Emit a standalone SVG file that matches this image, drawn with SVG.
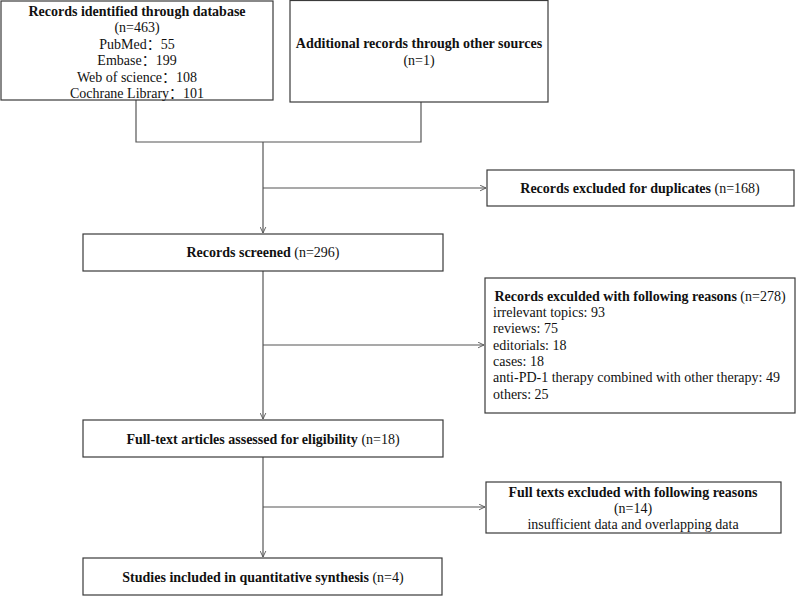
<svg xmlns="http://www.w3.org/2000/svg" width="796" height="596" viewBox="0 0 796 596">
<style>
rect.box{fill:#fff;stroke:#3a3a3a;stroke-width:1.2}
text{font-family:"Liberation Serif","Noto Sans CJK SC",serif;font-size:14px;fill:#111}
.b{font-weight:bold}
.c{text-anchor:middle}
.ln{fill:none;stroke:#555;stroke-width:1.2}
</style>
<defs>
<marker id="ah" viewBox="0 0 10 10" refX="9.5" refY="5" markerWidth="7" markerHeight="7" markerUnits="userSpaceOnUse" orient="auto">
<polyline points="1,1 9.5,5 1,9" fill="none" stroke="#555" stroke-width="1.3"/>
</marker>
</defs>
<rect width="796" height="596" fill="#fff"/>
<g id="connectors">
<polyline class="ln" points="136,100 136,142 421,142 421,102"/>
<line class="ln" x1="263" y1="142" x2="263" y2="233" marker-end="url(#ah)"/>
<line class="ln" x1="263" y1="188" x2="486" y2="188" marker-end="url(#ah)"/>
<line class="ln" x1="263" y1="271" x2="263" y2="419" marker-end="url(#ah)"/>
<line class="ln" x1="263" y1="345" x2="484" y2="345" marker-end="url(#ah)"/>
<line class="ln" x1="263" y1="457" x2="263" y2="557" marker-end="url(#ah)"/>
<line class="ln" x1="263" y1="507" x2="485" y2="507" marker-end="url(#ah)"/>
</g>
<g id="n_database">
<rect class="box" x="1" y="1" width="272" height="99"/>
<text class="c" x="137" y="16"><tspan class="b">Records identified through database</tspan></text>
<text class="c" x="137" y="32">(n=463)</text>
<text class="c" x="137" y="49">PubMed：55</text>
<text class="c" x="137" y="65">Embase：199</text>
<text class="c" x="137" y="82">Web of science：108</text>
<text class="c" x="137" y="98">Cochrane Library：101</text>
</g>
<g id="n_other">
<rect class="box" x="290" y="0.5" width="258" height="101.5"/>
<text class="c b" x="419" y="48">Additional records through other sources</text>
<text class="c" x="419" y="65">(n=1)</text>
</g>
<g id="n_duplicates">
<rect class="box" x="487" y="170" width="307" height="36"/>
<text class="c" x="640" y="193"><tspan class="b">Records excluded for duplicates</tspan>  (n=168)</text>
</g>
<g id="n_screened">
<rect class="box" x="83" y="234" width="360" height="37"/>
<text class="c" x="263" y="257"><tspan class="b">Records screened</tspan> (n=296)</text>
</g>
<g id="n_reasons">
<rect class="box" x="485" y="278" width="310" height="135"/>
<text class="c" x="640" y="301"><tspan class="b">Records exculded with following reasons</tspan> (n=278)</text>
<text x="493" y="317">irrelevant topics: 93</text>
<text x="493" y="333">reviews: 75</text>
<text x="493" y="350">editorials: 18</text>
<text x="493" y="366">cases: 18</text>
<text x="493" y="382">anti-PD-1 therapy combined with other therapy: 49</text>
<text x="493" y="399">others: 25</text>
</g>
<g id="n_fulltext">
<rect class="box" x="83" y="420" width="360" height="37"/>
<text class="c" x="263" y="444"><tspan class="b">Full-text articles assessed for eligibility</tspan> (n=18)</text>
</g>
<g id="n_fullexcluded">
<rect class="box" x="486" y="482" width="295" height="51"/>
<text class="c b" x="633" y="497">Full texts excluded with following reasons</text>
<text class="c" x="633" y="513">(n=14)</text>
<text class="c" x="633" y="529">insufficient data and overlapping data</text>
</g>
<g id="n_included">
<rect class="box" x="83" y="558" width="359" height="37"/>
<text class="c" x="263" y="582"><tspan class="b">Studies included in quantitative synthesis</tspan> (n=4)</text>
</g>
</svg>
